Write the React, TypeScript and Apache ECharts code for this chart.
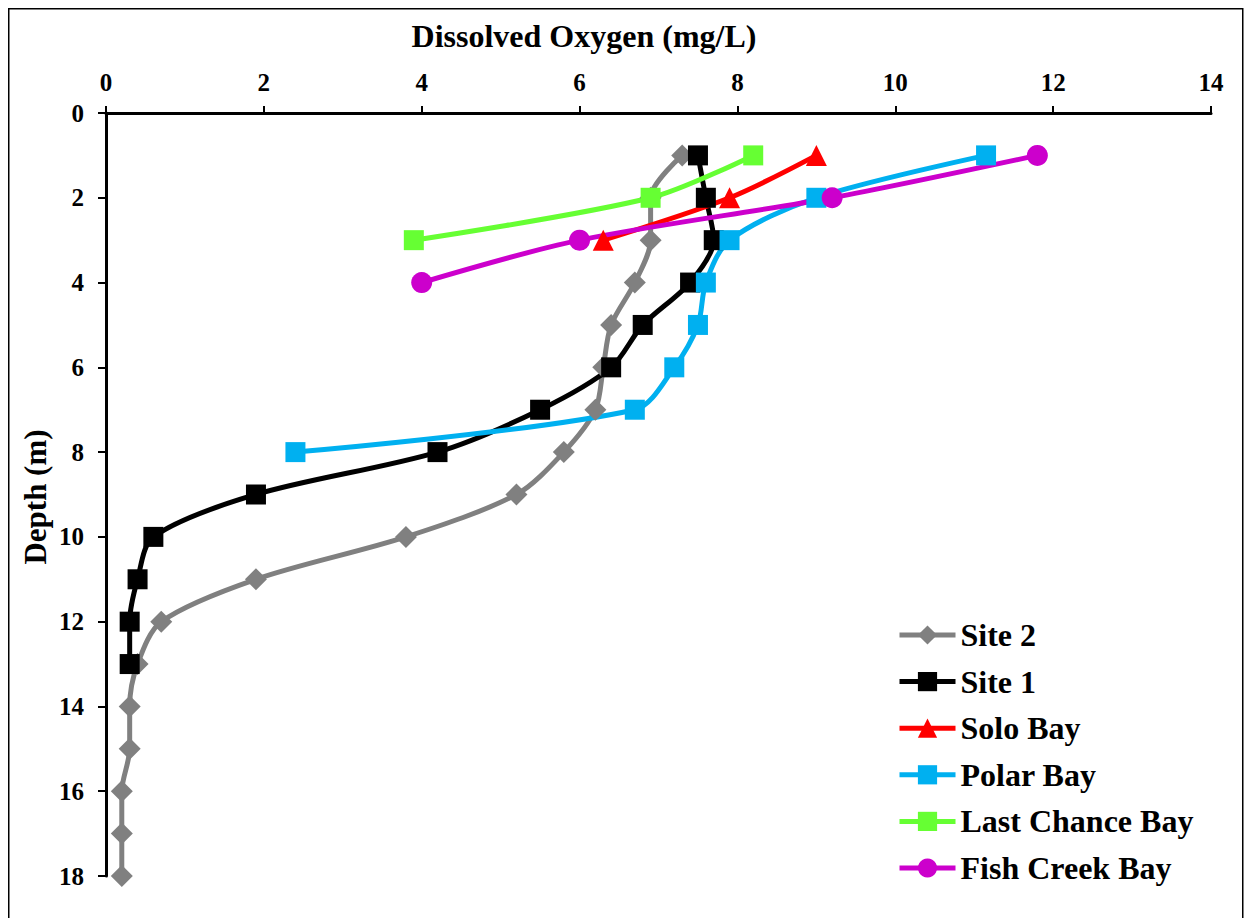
import React, { useEffect, useRef } from "react";
import * as echarts from "echarts";

const depthSite2 = [1, 2, 3, 4, 5, 6, 7, 8, 9, 10, 11, 12, 13, 14, 15, 16, 17, 18];
const doSite2 = [7.3, 6.9, 6.9, 6.7, 6.4, 6.3, 6.2, 5.8, 5.2, 3.8, 1.9, 0.7, 0.4, 0.3, 0.3, 0.2, 0.2, 0.2];
const depthSite1 = [1, 2, 3, 4, 5, 6, 7, 8, 9, 10, 11, 12, 13];
const doSite1 = [7.5, 7.6, 7.7, 7.4, 6.8, 6.4, 5.5, 4.2, 1.9, 0.6, 0.4, 0.3, 0.3];
const depthSolo = [1, 2, 3];
const doSolo = [9.0, 7.9, 6.3];
const depthPolar = [1, 2, 3, 4, 5, 6, 7, 8];
const doPolar = [11.15, 9.0, 7.9, 7.6, 7.5, 7.2, 6.7, 2.4];
const depthLastChance = [1, 2, 3];
const doLastChance = [8.2, 6.9, 3.9];
const depthFishCreek = [1, 2, 3, 4];
const doFishCreek = [11.8, 9.2, 6.0, 4.0];

const xTitle = "Dissolved Oxygen (mg/L)";
const yTitle = "Depth (m)";

const FONT = "'Liberation Serif', 'Times New Roman', serif";

const pairs = (xs: number[], ys: number[]) => xs.map((x, i) => [x, ys[i]]);

export default function App() {
  const ref = useRef<HTMLDivElement>(null);
  useEffect(() => {
    if (!ref.current) return;
    const chart = echarts.init(ref.current, undefined, { renderer: "svg" });
    const mk = (name: string, color: string, symbol: string, size: number, data: number[][]) => ({
      name,
      type: "line",
      data,
      smooth: 0.3,
      symbol,
      symbolSize: size,
      showSymbol: true,
      lineStyle: { color, width: 5 },
      itemStyle: { color, borderWidth: 0 },
      emphasis: { disabled: true },
    });
    chart.setOption({
      animation: false,
      backgroundColor: "#fff",
      grid: { left: 98, right: 42, top: 105, bottom: 52, containLabel: false },
      xAxis: {
        type: "value",
        position: "top",
        min: 0,
        max: 14,
        interval: 2,
        axisLine: { show: true, onZero: false, lineStyle: { color: "#000", width: 3 } },
        axisTick: { show: true, inside: false, length: 7, lineStyle: { color: "#000", width: 2 } },
        axisLabel: { color: "#000", fontFamily: FONT, fontWeight: "bold", fontSize: 25, margin: 18 },
        splitLine: { show: false },
      },
      yAxis: {
        type: "value",
        inverse: true,
        min: 0,
        max: 18,
        interval: 2,
        axisLine: { show: true, onZero: false, lineStyle: { color: "#000", width: 3 } },
        axisTick: { show: true, inside: false, length: 8, lineStyle: { color: "#000", width: 2 } },
        axisLabel: { color: "#000", fontFamily: FONT, fontWeight: "bold", fontSize: 25, margin: 22 },
        splitLine: { show: false },
      },
      legend: {
        orient: "vertical",
        left: 889,
        top: 611,
        padding: 0,
        itemWidth: 56,
        itemHeight: 24,
        itemGap: 14.6,
        lineStyle: { width: 5 },
        textStyle: { color: "#000", fontFamily: FONT, fontWeight: "bold", fontSize: 32, lineHeight: 32 },
        data: ["Site 2", "Site 1", "Solo Bay", "Polar Bay", "Last Chance Bay", "Fish Creek Bay"],
      },
      graphic: [
        {
          type: "rect",
          shape: { x: 0.75, y: 0.75, width: 1234, height: 940 },
          style: { fill: "none", stroke: "#000", lineWidth: 1.5 },
          silent: true,
        },
        {
          type: "text",
          x: 576,
          y: 28,
          style: { text: xTitle, fill: "#000", font: `bold 32px ${FONT}`, textAlign: "center", textVerticalAlign: "middle" },
        },
        {
          type: "text",
          x: 27,
          y: 489,
          rotation: Math.PI / 2,
          style: { text: yTitle, fill: "#000", font: `bold 31px ${FONT}`, textAlign: "center", textVerticalAlign: "middle" },
        },
      ],
      series: [
        mk("Site 2", "#808080", "diamond", 22, pairs(doSite2, depthSite2)),
        mk("Site 1", "#000000", "rect", 20, pairs(doSite1, depthSite1)),
        mk("Solo Bay", "#FF0000", "triangle", 21, pairs(doSolo, depthSolo)),
        mk("Polar Bay", "#00B0F0", "rect", 20, pairs(doPolar, depthPolar)),
        mk("Last Chance Bay", "#66FF33", "rect", 20, pairs(doLastChance, depthLastChance)),
        mk("Fish Creek Bay", "#CC00CC", "circle", 21, pairs(doFishCreek, depthFishCreek)),
      ],
    });
    return () => chart.dispose();
  }, []);
  return <div ref={ref} style={{ width: 1245, height: 920 }} />;
}
